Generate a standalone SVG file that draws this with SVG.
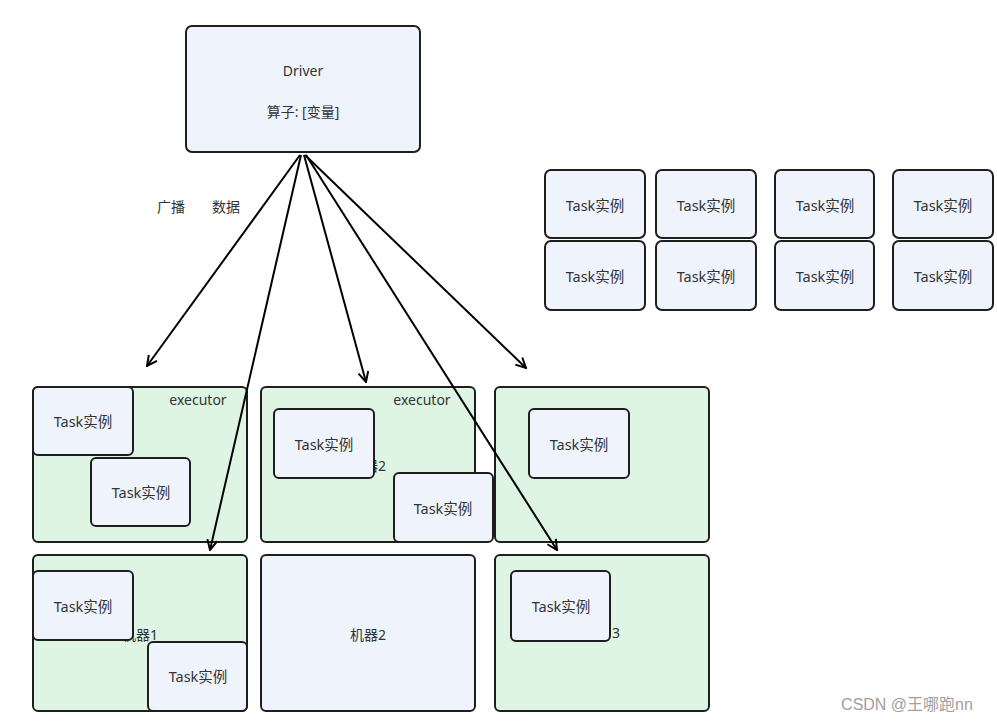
<svg xmlns="http://www.w3.org/2000/svg" width="997" height="722" viewBox="0 0 997 722">
<defs>
<style>
.blue{fill:#eff3fc;stroke:#1e1e1e;stroke-width:2}
.green{fill:#dff5e4;stroke:#1e1e1e;stroke-width:2}
.t{font-family:"Noto Sans","Noto Sans CJK SC",sans-serif;font-size:14px;fill:#333;text-anchor:middle;dominant-baseline:central}
.tk{font-size:14.5px}
.c{fill:none;stroke:#000;stroke-width:2}
</style>
<marker id="ah" viewBox="0 0 12 12" refX="11" refY="6" markerWidth="12" markerHeight="12" markerUnits="userSpaceOnUse" orient="auto">
<polyline points="1,1 11,6 1,11" fill="none" stroke="#000" stroke-width="2"/>
</marker>
</defs>
<rect width="997" height="722" fill="#fff"/>
<g id="driver">
<rect class="blue" x="186" y="26" width="234" height="126" rx="6"/>
<text class="t" x="303" y="70">Driver</text>
<text class="t" x="303" y="111">算子: [变量]</text>
</g>
<g id="labels">
<text class="t" x="171" y="206">广播</text>
<text class="t" x="226" y="206">数据</text>
</g>
<g id="grid">
<rect class="blue" x="545" y="170" width="100" height="68" rx="6"/><text class="t tk" x="595" y="205">Task实例</text>
<rect class="blue" x="656" y="170" width="100" height="68" rx="6"/><text class="t tk" x="706" y="205">Task实例</text>
<rect class="blue" x="775" y="170" width="99" height="68" rx="6"/><text class="t tk" x="825" y="205">Task实例</text>
<rect class="blue" x="893" y="170" width="100" height="68" rx="6"/><text class="t tk" x="943" y="205">Task实例</text>
<rect class="blue" x="545" y="241" width="100" height="69" rx="6"/><text class="t tk" x="595" y="276">Task实例</text>
<rect class="blue" x="656" y="241" width="100" height="69" rx="6"/><text class="t tk" x="706" y="276">Task实例</text>
<rect class="blue" x="775" y="241" width="99" height="69" rx="6"/><text class="t tk" x="825" y="276">Task实例</text>
<rect class="blue" x="893" y="241" width="100" height="69" rx="6"/><text class="t tk" x="943" y="276">Task实例</text>
</g>
<g id="execA">
<rect class="green" x="33" y="387" width="214" height="155" rx="5"/>
<text class="t" x="140" y="464">机器1</text>
<text class="t" x="198" y="399">executor</text>
<rect class="blue" x="33" y="387" width="100" height="68" rx="5"/><text class="t tk" x="83" y="421">Task实例</text>
<rect class="blue" x="91" y="458" width="99" height="68" rx="5"/><text class="t tk" x="141" y="492">Task实例</text>
</g>
<g id="execB">
<rect class="green" x="261" y="387" width="214" height="155" rx="5"/>
<text class="t" x="368" y="465">机器2</text>
<text class="t" x="422" y="399">executor</text>
<rect class="blue" x="274" y="409" width="100" height="69" rx="5"/><text class="t tk" x="324" y="444">Task实例</text>
<rect class="blue" x="394" y="473" width="99" height="69" rx="5"/><text class="t tk" x="443" y="508">Task实例</text>
</g>
<g id="execC">
<rect class="green" x="495" y="387" width="214" height="155" rx="5"/>
<rect class="blue" x="529" y="409" width="100" height="69" rx="5"/><text class="t tk" x="579" y="444">Task实例</text>
</g>
<g id="machine1">
<rect class="green" x="33" y="555" width="214" height="156" rx="5"/>
<text class="t" x="140" y="634">机器1</text>
<rect class="blue" x="33" y="571" width="100" height="69" rx="5"/><text class="t tk" x="83" y="606">Task实例</text>
<rect class="blue" x="148" y="642" width="99" height="69" rx="5"/><text class="t tk" x="198" y="676">Task实例</text>
</g>
<g id="machine2">
<rect class="blue" x="261" y="555" width="214" height="156" rx="5"/>
<text class="t" x="368" y="634">机器2</text>
</g>
<g id="machine3">
<rect class="green" x="495" y="555" width="214" height="156" rx="5"/>
<text class="t" x="620" y="632" style="text-anchor:end">机器<tspan dx="3">3</tspan></text>
<rect class="blue" x="511" y="571" width="99" height="70" rx="5"/><text class="t tk" x="561" y="606">Task实例</text>
</g>
<g id="connectors">
<line class="c" x1="300" y1="155" x2="147" y2="366" marker-end="url(#ah)"/>
<line class="c" x1="301" y1="155" x2="210" y2="550" marker-end="url(#ah)"/>
<line class="c" x1="304" y1="155" x2="366" y2="382" marker-end="url(#ah)"/>
<line class="c" x1="305" y1="155" x2="526" y2="368" marker-end="url(#ah)"/>
<line class="c" x1="306" y1="155" x2="557" y2="550" marker-end="url(#ah)"/>
</g>
<text x="907" y="704" font-family="'Liberation Sans','Noto Sans CJK SC',sans-serif" font-size="16" fill="#a0a0a0" text-anchor="middle" dominant-baseline="central">CSDN @王哪跑nn</text>
</svg>
